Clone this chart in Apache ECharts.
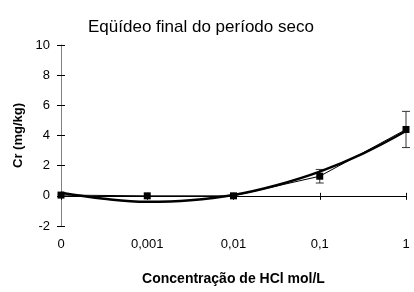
<!DOCTYPE html>
<html><head><meta charset="utf-8">
<script src="https://cdn.jsdelivr.net/npm/echarts@6/dist/echarts.min.js"></script>
<style>html,body{margin:0;padding:0;background:#fff}#c{width:414px;height:292px}</style>
</head><body><div id="c"></div>
<script>
var categories = ['0', '0,001', '0,01', '0,1', '1'];
var crValues = [0.05, 0.0, 0.0, 1.3, 4.4];
var crErrors = [0, 0, 0, 0.45, 1.2];
var trendX = [0, 0.5, 1, 1.5, 2, 2.5, 3, 3.5, 4];
var trendY = [0.2, -0.2, -0.4, -0.3, 0.05, 0.7, 1.6, 2.8, 4.3];
var yTicks = [-2, 0, 2, 4, 6, 8, 10];

var font = 'Liberation Sans, Arial, sans-serif';
var chart = echarts.init(document.getElementById('c'));
var pts = crValues.map(function (v, i) { return [i, v]; });
var errs = crValues.map(function (v, i) { return [i, v - crErrors[i], v + crErrors[i]]; });
var trend = trendX.map(function (x, i) { return [x, trendY[i]]; });

chart.setOption({
  animation: false,
  title: {
    text: 'Eqüídeo final do período seco', left: 83, top: 14,
    textStyle: { fontFamily: font, fontSize: 17, fontWeight: 'normal', color: '#000' }
  },
  grid: { left: 61, right: 8, top: 45, bottom: 66, outerBoundsMode: 'none', containLabel: false },
  xAxis: [{
    type: 'value', min: 0, max: 4, interval: 1, position: 'bottom',
    axisLine: { onZero: true, lineStyle: { color: '#000', width: 1 } },
    axisTick: { show: true, length: 4, lineStyle: { color: '#000' } },
    splitLine: { show: false },
    axisLabel: { margin: 12, fontFamily: font, fontSize: 13, color: '#000',
      formatter: function (v) { return categories[v]; } },
    name: 'Concentração de HCl mol/L', nameLocation: 'middle', nameGap: 46,
    nameTextStyle: { fontFamily: font, fontSize: 14, fontWeight: 'bold', color: '#000' }
  }, {
    type: 'value', min: 0, max: 4, interval: 1, position: 'top',
    axisLine: { show: false, onZero: true },
    axisTick: { show: true, length: 3, lineStyle: { color: '#000' } },
    splitLine: { show: false }, axisLabel: { show: false }
  }],
  yAxis: [{
    type: 'value', min: yTicks[0], max: yTicks[yTicks.length - 1], interval: 2, position: 'left',
    axisLine: { show: true, onZero: false, lineStyle: { color: '#808080', width: 1 } },
    axisTick: { show: true, length: 4, lineStyle: { color: '#000' } },
    splitLine: { show: false },
    axisLabel: { margin: 11, fontFamily: font, fontSize: 13, color: '#000' },
    name: 'Cr (mg/kg)', nameLocation: 'middle', nameGap: 34,
    nameTextStyle: { fontFamily: font, fontSize: 13, fontWeight: 'bold', color: '#000' }
  }, {
    type: 'value', min: yTicks[0], max: yTicks[yTicks.length - 1], interval: 2, position: 'right',
    axisLine: { show: false, onZero: true },
    axisTick: { show: true, length: 4, lineStyle: { color: '#000' } },
    splitLine: { show: false }, axisLabel: { show: false }
  }],
  series: [{
    type: 'custom', xAxisIndex: 0, yAxisIndex: 0, data: errs, z: 3,
    renderItem: function (params, api) {
      if (api.value(2) - api.value(1) <= 0) return null;
      var lo = api.coord([api.value(0), api.value(1)]);
      var hi = api.coord([api.value(0), api.value(2)]);
      var w = 4;
      var st = { stroke: '#333', lineWidth: 1 };
      return { type: 'group', children: [
        { type: 'line', shape: { x1: hi[0], y1: hi[1], x2: lo[0], y2: lo[1] }, style: st },
        { type: 'line', shape: { x1: hi[0] - w, y1: hi[1], x2: hi[0] + w, y2: hi[1] }, style: st },
        { type: 'line', shape: { x1: lo[0] - w, y1: lo[1], x2: lo[0] + w, y2: lo[1] }, style: st }
      ] };
    }
  }, {
    type: 'line', xAxisIndex: 0, yAxisIndex: 0, data: pts, z: 4,
    symbol: 'rect', symbolSize: 7, showSymbol: true,
    lineStyle: { color: '#000', width: 1 }, itemStyle: { color: '#000' }
  }, {
    type: 'line', xAxisIndex: 0, yAxisIndex: 0, data: trend, z: 5,
    smooth: 0.4, showSymbol: false, symbol: 'none',
    lineStyle: { color: '#000', width: 2.5 }
  }]
});
</script></body></html>
